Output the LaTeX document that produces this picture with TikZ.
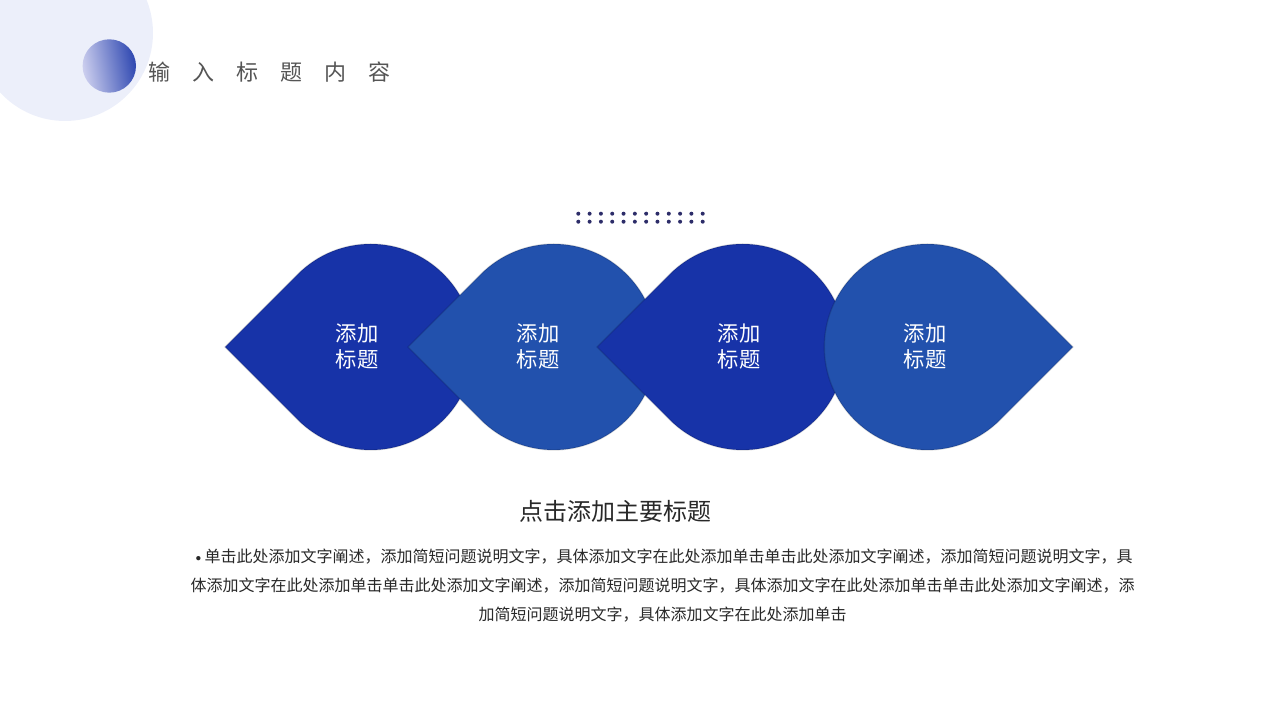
\documentclass[tikz,border=0pt]{standalone}
\usepackage{fontspec}
\newfontfamily\cjk{Noto Sans CJK SC}
\usetikzlibrary{positioning}

\definecolor{leafdark}{RGB}{23,51,168}
\definecolor{leaflight}{RGB}{34,81,173}
\definecolor{palebg}{RGB}{236,239,250}
\definecolor{dotblue}{RGB}{45,45,105}
\definecolor{graytext}{RGB}{85,85,85}
\definecolor{bodytext}{RGB}{40,40,40}

% teardrop with the point on the left / right: centre x, centre y, style
\newcommand{\leafleft}[3]{\filldraw[#3] (#1,#2) ++(-145.66,0) -- ++(45:103) arc[start angle=135, end angle=-135, radius=103] -- cycle;}
\newcommand{\leafright}[3]{\filldraw[#3] (#1,#2) ++(145.66,0) -- ++(135:103) arc[start angle=45, end angle=315, radius=103] -- cycle;}

\begin{document}
\begin{tikzpicture}[
    x=0.75pt, y=0.75pt,
    darkleaf/.style={fill=leafdark, draw=black, draw opacity=0.14, line width=1pt},
    lightleaf/.style={fill=leaflight, draw=black, draw opacity=0.14, line width=1pt},
    leaftext/.style={text=white, align=center, font=\cjk\fontsize{16}{19.5}\selectfont},
    dotmark/.style={fill=dotblue, radius=2}
]
\useasboundingbox (0,0) rectangle (1280,720);

% header
\fill[palebg] (65,687) circle[radius=88];
\shade[left color=blue!10!palebg!90!gray, right color=leafdark!90!white, shading angle=100] (109.3,654) circle[radius=26.7];
\node[anchor=west, text=graytext, font=\cjk\fontsize{16.5}{20}\selectfont] (title) at (144,648)
    {输\hspace{16.5pt}入\hspace{16.5pt}标\hspace{16.5pt}题\hspace{16.5pt}内\hspace{16.5pt}容};

% dots
\foreach \i in {0,...,11} {
    \fill[dotmark] (578.3+11.31*\i,506.3) circle;
    \fill[dotmark] (578.3+11.31*\i,498.3) circle;
}

% leaves
\leafleft{370.7}{373}{darkleaf}
\leafleft{553.7}{373}{lightleaf}
\leafleft{742.7}{373}{darkleaf}
\leafright{927.3}{373}{lightleaf}

\node[leaftext] (leafa) at (357,374) {添加\\标题};
\node[leaftext] (leafb) at (538,374) {添加\\标题};
\node[leaftext] (leafc) at (739,374) {添加\\标题};
\node[leaftext] (leafd) at (925,374) {添加\\标题};

% text below
\node[text=bodytext, font=\cjk\fontsize{18}{22}\selectfont] (maintitle) at (615,209) {点击添加主要标题};
\node[text=bodytext, align=center, font=\cjk\fontsize{12}{21.75}\selectfont] (body) at (662.5,134) {
    {\normalfont\textbullet}单击此处添加文字阐述，添加简短问题说明文字，具体添加文字在此处添加单击单击此处添加文字阐述，添加简短问题说明文字，具\\
    体添加文字在此处添加单击单击此处添加文字阐述，添加简短问题说明文字，具体添加文字在此处添加单击单击此处添加文字阐述，添\\
    加简短问题说明文字，具体添加文字在此处添加单击
};

\end{tikzpicture}
\end{document}
